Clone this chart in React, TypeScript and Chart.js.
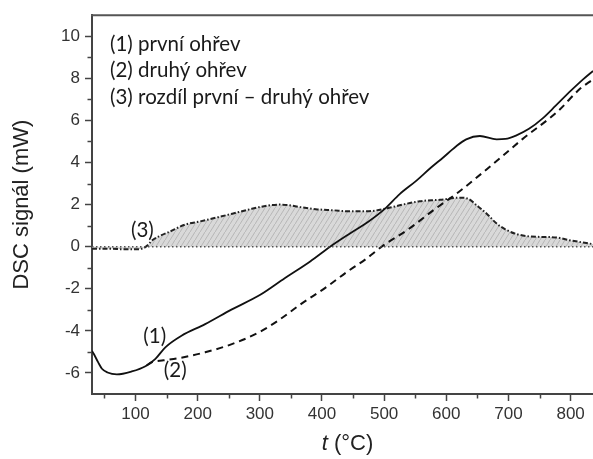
import React, { useEffect, useRef } from 'react';
import { Chart, registerables } from 'chart.js';

Chart.register(...registerables);

// ---- Data ----
const t1 = [30, 33, 40, 46, 55, 70, 94, 116, 132, 148, 174, 212, 255, 300, 340, 381, 413, 445, 475, 501, 525, 552, 575, 595, 615, 632, 654, 681, 695, 712, 733, 755, 776, 800, 820, 836];
const v1 = [-4.95, -5.1, -5.5, -5.8, -5.98, -6.07, -5.93, -5.68, -5.33, -4.78, -4.23, -3.68, -2.98, -2.3, -1.5, -0.7, 0, 0.63, 1.2, 1.8, 2.5, 3.14, 3.75, 4.24, 4.75, 5.1, 5.26, 5.1, 5.12, 5.28, 5.6, 6.1, 6.7, 7.4, 7.95, 8.35];

const t2 = [118, 126, 145, 169, 212, 255, 298, 330, 365, 409, 440, 470, 496, 540, 580, 620, 686, 722, 780, 815, 836];
const v2 = [-5.64, -5.49, -5.4, -5.3, -5.02, -4.63, -4.08, -3.5, -2.75, -1.88, -1.2, -0.6, 0, 0.85, 1.75, 2.6, 4.2, 5.1, 6.45, 7.5, 7.95];

const t3 = [30, 60, 80, 100, 112, 120, 127, 140, 154, 180, 204, 234, 260, 287, 314, 330, 345, 365, 390, 418, 445, 472, 501, 530, 557, 590, 622, 635, 649, 665, 681, 697, 713, 730, 745, 777, 798, 820, 836];
const v3 = [-0.1, -0.1, -0.12, -0.12, -0.08, 0.08, 0.31, 0.52, 0.7, 1.05, 1.2, 1.41, 1.6, 1.8, 1.96, 2.0, 1.98, 1.88, 1.78, 1.73, 1.68, 1.68, 1.8, 2.0, 2.16, 2.23, 2.33, 2.28, 1.96, 1.57, 1.1, 0.79, 0.6, 0.5, 0.47, 0.44, 0.31, 0.2, 0.12];

const baselineT = [30, 836];
const baselineV = [0, 0];

const xTicks = [100, 200, 300, 400, 500, 600, 700, 800];
const xMinorTicks = [50, 150, 250, 350, 450, 550, 650, 750];
const yTicks = [-6, -4, -2, 0, 2, 4, 6, 8, 10];
const yMinorTicks = [-5, -3, -1, 1, 3, 5, 7, 9];

const legendLines = ['(1) první ohřev', '(2) druhý ohřev', '(3) rozdíl první – druhý ohřev'];
const curveLabels = ['(1)', '(2)', '(3)'];
const curveLabelT = [131, 164, 111];
const curveLabelV = [-4.24, -5.88, 0.78];

const yTitle = 'DSC signál (mW)';
const xTitleVar = 't';
const xTitleUnit = ' (°C)';

const pts = (ts: number[], vs: number[]) => ts.map((t, i) => ({ x: t, y: vs[i] }));

const TEXT_FONT = "Lato, 'Open Sans', sans-serif";
const AXIS_FONT = "'Liberation Sans', Arial, sans-serif";

function makePattern(): CanvasPattern | string {
  const c = document.createElement('canvas');
  c.width = 5;
  c.height = 8;
  const g = c.getContext('2d');
  if (!g) return '#d8d8d8';
  g.fillStyle = '#d9d9d9';
  g.fillRect(0, 0, 5, 8);
  g.strokeStyle = '#adadad';
  g.lineWidth = 0.8;
  g.beginPath();
  g.moveTo(-1, 9.6);
  g.lineTo(6, -1.6);
  g.stroke();
  const p = g.createPattern(c, 'repeat');
  return p || '#d8d8d8';
}

const decorPlugin = {
  id: 'decor',
  afterDraw(chart: any) {
    const { ctx, chartArea, scales } = chart;
    const xs = scales.x;
    const ys = scales.y;
    ctx.save();
    // top frame line
    ctx.strokeStyle = '#555';
    ctx.lineWidth = 2;
    ctx.beginPath();
    ctx.moveTo(chartArea.left - 1, chartArea.top);
    ctx.lineTo(chart.width, chartArea.top);
    ctx.stroke();
    // minor ticks
    ctx.strokeStyle = '#444';
    ctx.lineWidth = 1.5;
    xMinorTicks.forEach((v) => {
      const px = Math.round(xs.getPixelForValue(v)) + 0.5;
      ctx.beginPath();
      ctx.moveTo(px, chartArea.bottom);
      ctx.lineTo(px, chartArea.bottom + 4.5);
      ctx.stroke();
    });
    yMinorTicks.forEach((v) => {
      const py = Math.round(ys.getPixelForValue(v)) + 0.5;
      ctx.beginPath();
      ctx.moveTo(chartArea.left - 4.5, py);
      ctx.lineTo(chartArea.left, py);
      ctx.stroke();
    });
    // legend text
    ctx.fillStyle = '#1a1a1a';
    ctx.font = `20.5px ${TEXT_FONT}`;
    ctx.textAlign = 'left';
    ctx.textBaseline = 'middle';
    legendLines.forEach((s, i) => {
      ctx.fillText(s, chartArea.left + 18, chartArea.top + 29 + i * 26.5);
    });
    // curve labels
    ctx.textAlign = 'center';
    curveLabels.forEach((s, i) => {
      ctx.fillText(s, xs.getPixelForValue(curveLabelT[i]), ys.getPixelForValue(curveLabelV[i]));
    });
    // x title: italic t + (°C)
    ctx.fillStyle = '#222';
    ctx.textAlign = 'left';
    const italic = `italic 22px ${AXIS_FONT}`;
    const normal = `22px ${AXIS_FONT}`;
    ctx.font = italic;
    const w1 = ctx.measureText(xTitleVar).width;
    ctx.font = normal;
    const w2 = ctx.measureText(xTitleUnit).width;
    const cx = (chartArea.left + chartArea.right) / 2 + 5;
    const startX = cx - (w1 + w2) / 2;
    const ty = 444;
    ctx.font = italic;
    ctx.fillText(xTitleVar, startX, ty);
    ctx.font = normal;
    ctx.fillText(xTitleUnit, startX + w1, ty);
    ctx.restore();
  },
};

export default function App() {
  const ref = useRef<HTMLCanvasElement | null>(null);

  useEffect(() => {
    const canvas = ref.current;
    if (!canvas) return;
    const pattern = makePattern();
    const chart = new Chart(canvas, {
      type: 'line',
      data: {
        datasets: [
          {
            label: 'baseline',
            data: pts(baselineT, baselineV),
            borderColor: '#555',
            borderWidth: 1.6,
            borderDash: [1.5, 2.5],
            pointRadius: 0,
            fill: false,
          },
          {
            label: '(1) první ohřev',
            data: pts(t1, v1),
            borderColor: '#111',
            borderWidth: 1.8,
            pointRadius: 0,
            cubicInterpolationMode: 'monotone',
            fill: false,
          },
          {
            label: '(2) druhý ohřev',
            data: pts(t2, v2),
            borderColor: '#111',
            borderWidth: 2,
            borderDash: [7, 5],
            pointRadius: 0,
            cubicInterpolationMode: 'monotone',
            fill: false,
          },
          {
            label: '(3) rozdíl první – druhý ohřev',
            data: pts(t3, v3),
            borderColor: '#222',
            borderWidth: 2,
            borderDash: [5, 2, 1.5, 2],
            pointRadius: 0,
            cubicInterpolationMode: 'monotone',
            fill: 'origin',
            backgroundColor: pattern as any,
          },
        ],
      },
      options: {
        responsive: false,
        animation: false,
        events: [],
        layout: { padding: { top: 13, right: 0, left: 0, bottom: 0 } },
        plugins: {
          legend: { display: false },
          tooltip: { enabled: false },
          title: { display: false },
        },
        scales: {
          x: {
            type: 'linear',
            min: 30,
            max: 836,
            afterBuildTicks: (s: any) => {
              s.ticks = xTicks.map((v) => ({ value: v }));
            },
            afterFit: (s: any) => {
              s.height = 65;
            },
            ticks: {
              color: '#333',
              font: { size: 17, family: AXIS_FONT },
              padding: 3,
              maxRotation: 0,
              autoSkip: false,
            },
            grid: {
              display: true,
              drawOnChartArea: false,
              drawTicks: true,
              tickLength: 7,
              tickWidth: 1.5,
              tickColor: '#444',
            },
            border: { display: true, color: '#444', width: 2 },
            title: { display: false },
          },
          y: {
            type: 'linear',
            min: -7,
            max: 11,
            afterBuildTicks: (s: any) => {
              s.ticks = yTicks.map((v) => ({ value: v }));
            },
            afterFit: (s: any) => {
              s.width = 92;
            },
            ticks: {
              color: '#333',
              font: { size: 17, family: AXIS_FONT },
              padding: 5,
              autoSkip: false,
            },
            grid: {
              display: true,
              drawOnChartArea: false,
              drawTicks: true,
              tickLength: 7,
              tickWidth: 1.5,
              tickColor: '#444',
            },
            border: { display: true, color: '#444', width: 2 },
            title: {
              display: true,
              text: yTitle,
              color: '#222',
              font: { size: 22, family: AXIS_FONT },
              padding: { top: 9, bottom: 0 },
            },
          },
        },
      },
      plugins: [decorPlugin],
    });
    return () => chart.destroy();
  }, []);

  return (
    <div style={{ position: 'absolute', left: 0, top: 0, width: 593, height: 459, background: '#fff' }}>
      <canvas ref={ref} width={593} height={459} style={{ display: 'block' }} />
    </div>
  );
}
